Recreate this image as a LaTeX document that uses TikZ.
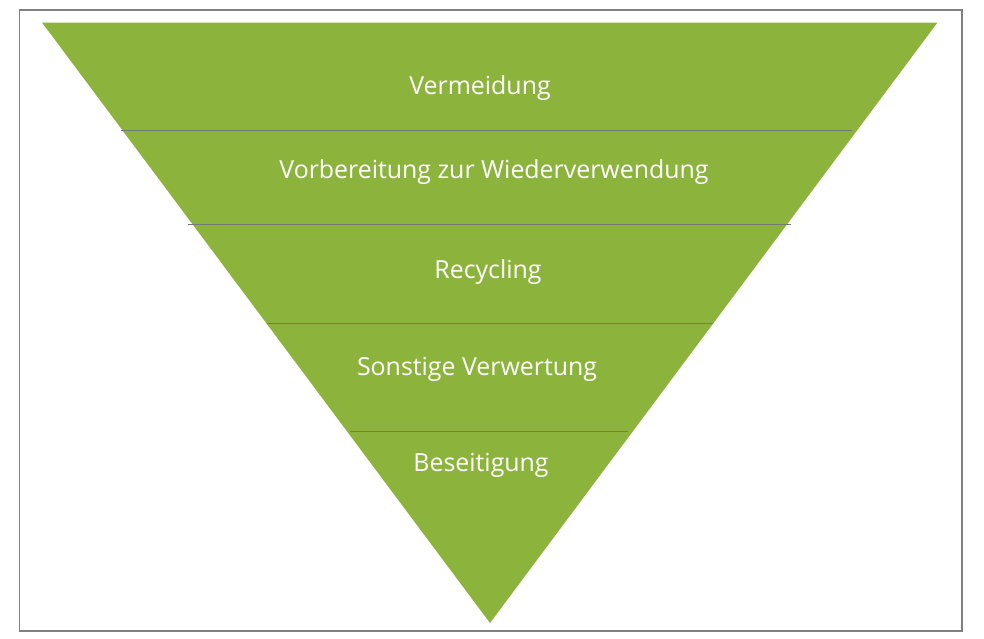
\documentclass[tikz,border=0pt]{standalone}
\usepackage{fontspec}
\setmainfont{Open Sans}
\definecolor{pyrgreen}{HTML}{8CB43C}
\definecolor{framegray}{HTML}{808080}
\definecolor{divgray}{HTML}{767676}
\begin{document}
\begin{tikzpicture}[x=1pt,y=-1pt,
  lbl/.style={text=white,font=\fontsize{24.9}{29}\selectfont,inner sep=0pt,anchor=center},
  divider/.style={draw=divgray,line width=1.1pt}]
\useasboundingbox (0,0) rectangle (984,638);
\draw[framegray,line width=1.2pt] (19.5,10) rectangle (962,631);
\fill[pyrgreen] (42,22.5) -- (937.5,22.5) -- (490,623) -- cycle;
\coordinate (l1a) at (120.5,130.5); \coordinate (l1b) at (852,130.5);
\coordinate (l2a) at (188,224.5); \coordinate (l2b) at (790.5,224.5);
\coordinate (l3a) at (267,323.5); \coordinate (l3b) at (713,323.5);
\coordinate (l4a) at (350,431.5); \coordinate (l4b) at (628,431.5);
\draw[divider] (l1a) -- (l1b);
\draw[divider] (l2a) -- (l2b);
\draw[divider] (l3a) -- (l3b);
\draw[divider] (l4a) -- (l4b);
\node[lbl] (t1) at (480,88) {Vermeidung};
\node[lbl] (t2) at (494,172) {Vorbereitung zur Wiederverwendung};
\node[lbl] (t3) at (488,272) {Recycling};
\node[lbl] (t4) at (477,369) {Sonstige Verwertung};
\node[lbl] (t5) at (481,465) {Beseitigung};
\end{tikzpicture}
\end{document}
